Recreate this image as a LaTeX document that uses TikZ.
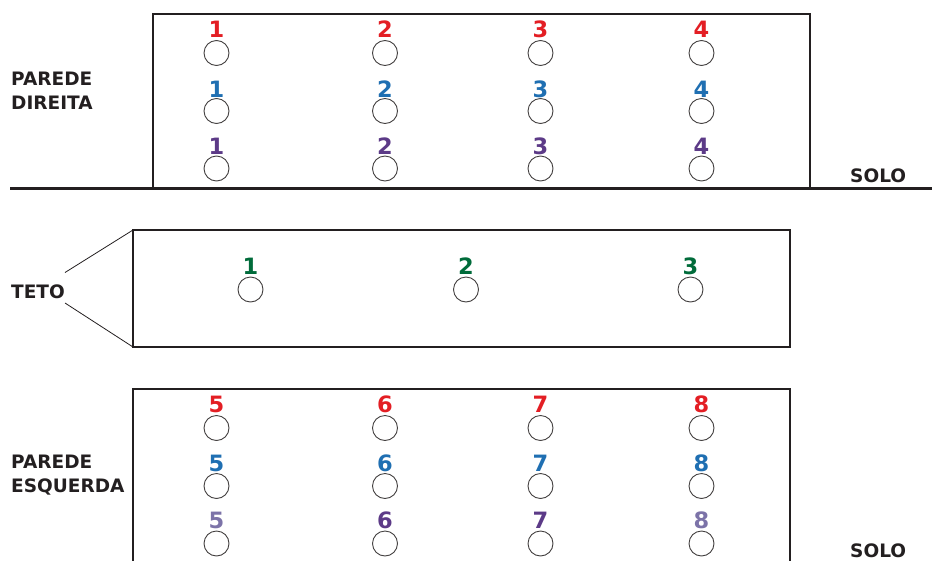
\documentclass[tikz,border=0pt]{standalone}
\usepackage{fontspec}
\setmainfont{DejaVu Sans}
\definecolor{cred}{HTML}{E31E24}
\definecolor{cblue}{HTML}{1F6FB2}
\definecolor{cpurple}{HTML}{5C3A87}
\definecolor{clav}{HTML}{7C73A8}
\definecolor{cgreen}{HTML}{006B3A}
\definecolor{cink}{HTML}{231F20}
\begin{document}
\begin{tikzpicture}[x=1pt,y=-1pt,
  hole/.style={circle,draw=cink!85,line width=0.9pt,minimum size=25pt,inner sep=0pt},
  num/.style={anchor=base,inner sep=0pt,font=\fontsize{22.5}{22.5}\selectfont\bfseries},
  lbl/.style={anchor=base west,inner sep=0pt,text=cink,font=\fontsize{18.5}{18.5}\selectfont\bfseries},
  frame/.style={draw=cink,line width=1.4pt}]
\useasboundingbox (0,0) rectangle (932,560);
% top box and ground
\draw[frame] (153,188) -- (153,14) -- (810,14) -- (810,188);
\draw[cink,line width=3.6pt] (10,188.5) -- (932,188.5);
% teto box
\draw[frame] (133,230) rectangle (790,347);
% bottom box
\draw[frame] (133,562) -- (133,389) -- (790,389) -- (790,562);
% labels
\node[lbl] (pd1) at (11,85) {PAREDE};
\node[lbl] (pd2) at (11,109) {DIREITA};
\node[lbl] (teto) at (11,298) {TETO};
\node[lbl] (pe1) at (11,468) {PAREDE};
\node[lbl] (pe2) at (11,492) {ESQUERDA};
\node[lbl] (solo1) at (850,182) {SOLO};
\node[lbl] (solo2) at (850,557) {SOLO};
% teto connectors
\coordinate (ta) at (65,272.5);
\coordinate (tb) at (65,303);
\draw[cink,line width=0.8pt] (ta) -- (133,230);
\draw[cink,line width=0.8pt] (tb) -- (133,347);
% top wall
\foreach \i/\x in {1/216.5,2/385,3/540.5,4/701.5}{
  \node[hole] (dr\i) at (\x,53) {};
  \node[num,text=cred] (ndr\i) at (\x,37) {\i};
  \node[hole] (db\i) at (\x,111) {};
  \node[num,text=cblue] (ndb\i) at (\x,97) {\i};
  \node[hole] (dp\i) at (\x,168.5) {};
  \node[num,text=cpurple] (ndp\i) at (\x,154.5) {\i};
}
% teto
\foreach \i/\x in {1/250.5,2/466,3/690.5}{
  \node[hole] (t\i) at (\x,289.5) {};
  \node[num,text=cgreen] (nt\i) at (\x,274) {\i};
}
% bottom wall
\foreach \i/\x/\c in {5/216.5/clav,6/385/cpurple,7/540.5/cpurple,8/701.5/clav}{
  \node[hole] (er\i) at (\x,428) {};
  \node[num,text=cred] (ner\i) at (\x,412.5) {\i};
  \node[hole] (eb\i) at (\x,486) {};
  \node[num,text=cblue] (neb\i) at (\x,471.5) {\i};
  \node[hole] (ep\i) at (\x,543.5) {};
  \node[num,text=\c] (nep\i) at (\x,528.5) {\i};
}
\end{tikzpicture}
\end{document}
